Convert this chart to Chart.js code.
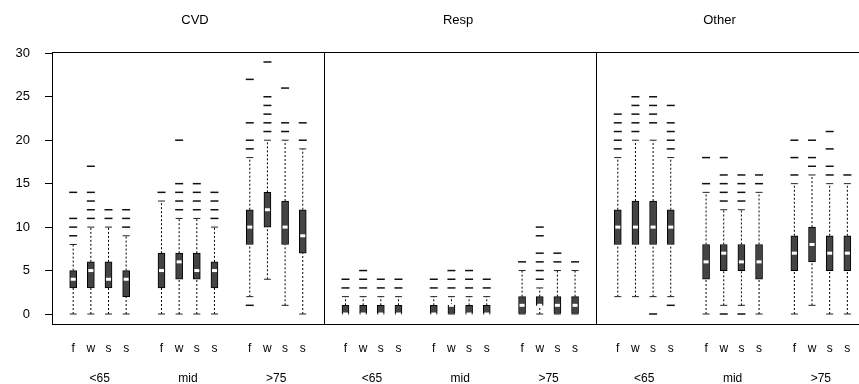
<!DOCTYPE html>
<html>
<head>
<meta charset="utf-8">
<script src="https://cdn.jsdelivr.net/npm/chart.js@4"></script>
<style>
  html, body { margin: 0; padding: 0; background: #fff; }
</style>
</head>
<body>
<canvas id="chart" width="859" height="384"></canvas>
<script>
const panels = ['CVD', 'Resp', 'Other'];
const ageGroups = ['<65', 'mid', '>75'];
const seasons = ['f', 'w', 's', 's'];
const yTicks = [0, 5, 10, 15, 20, 25, 30];

// 36 boxes: CVD, Resp, Other; each <65 / mid / >75 with f w s s
const whiskerLow = [
  0, 0, 0, 0,   0, 0, 0, 0,   2, 4, 1, 0,
  0, 0, 0, 0,   0, 0, 0, 0,   0, 0, 0, 0,
  2, 2, 2, 2,   0, 1, 1, 0,   0, 1, 0, 0
];
const q1 = [
  3, 3, 3, 2,   3, 4, 4, 3,   8, 10, 8, 7,
  0, 0, 0, 0,   0, 0, 0, 0,   0, 1, 0, 0,
  8, 8, 8, 8,   4, 5, 5, 4,   5, 6, 5, 5
];
const median = [
  4, 5, 4, 4,   5, 6, 5, 5,   10, 12, 10, 9,
  0, 0, 0, 0,   0, 1, 0, 0,   1, 1, 1, 1,
  10, 10, 10, 10,   6, 7, 6, 6,   7, 8, 7, 7
];
const q3 = [
  5, 6, 6, 5,   7, 7, 7, 6,   12, 14, 13, 12,
  1, 1, 1, 1,   1, 1, 1, 1,   2, 2, 2, 2,
  12, 13, 13, 12,   8, 8, 8, 8,   9, 10, 9, 9
];
const whiskerHigh = [
  8, 10, 10, 9,   13, 11, 11, 10,   18, 20, 20, 19,
  2, 2, 2, 2,   2, 2, 2, 2,   5, 3, 5, 5,
  18, 20, 20, 18,   14, 12, 12, 14,   15, 16, 15, 15
];
const outliers = [
  [9, 10, 11, 14], [11, 12, 13, 14, 17], [11, 12], [10, 11, 12],
  [14], [12, 13, 14, 15, 20], [12, 13, 14, 15], [11, 12, 13, 14],
  [1, 19, 20, 22, 27], [21, 22, 23, 24, 25, 29], [21, 22, 26], [20, 22],
  [3, 4], [3, 4, 5], [3, 4], [3, 4],
  [3, 4], [3, 4, 5], [3, 4, 5], [3, 4],
  [6], [4, 5, 6, 7, 9, 10], [6, 7], [6],
  [19, 20, 21, 22, 23], [21, 22, 23, 24, 25], [0, 22, 23, 24, 25], [1, 19, 20, 21, 22, 24],
  [15, 18], [0, 13, 14, 15, 16, 18], [0, 13, 14, 15, 16], [15, 16],
  [16, 18, 20], [17, 18, 20], [16, 17, 19, 21], [16]
];

// layout on the x axis: slot units, one panel is PANEL_W slots wide
const PANEL_W = 15.42;
const X_MIN = -1.2;
const X_MAX = 44.5;
const TITLE_X = [6.9, 21.8, 36.6];   // where the panel titles sit

function boxX(i) {
  const p = Math.floor(i / 12), g = Math.floor((i % 12) / 4), s = i % 4;
  return p * PANEL_W + g * 5 + s;
}

const xs = median.map((_, i) => boxX(i));
const groupX = [];
panels.forEach((_, p) => ageGroups.forEach((_, g) => groupX.push(p * PANEL_W + g * 5 + 1.5)));
const panelBounds = [1, 2].map(p => p * PANEL_W + X_MIN);

const whiskerPts = [];
const staplePts = [];
xs.forEach((x, i) => {
  whiskerPts.push({x, y: whiskerLow[i]}, {x, y: q1[i]}, {x, y: null});
  whiskerPts.push({x, y: q3[i]}, {x, y: whiskerHigh[i]}, {x, y: null});
  staplePts.push({x, y: whiskerLow[i]}, {x, y: whiskerHigh[i]});
});
const outlierPts = [];
xs.forEach((x, i) => outliers[i].forEach(v => outlierPts.push({x, y: v})));

const font = { family: '"Liberation Sans", Arial, Helvetica, sans-serif', size: 13 };
const narrow = { family: '"Liberation Sans Narrow", "Liberation Sans", Arial, sans-serif', size: 12 };

// keep the plot area where the axis heights/widths put it
const noSidePad = s => { s.paddingLeft = 0; s.paddingRight = 0; };

new Chart(document.getElementById('chart'), {
  type: 'scatter',
  data: {
    datasets: [
      {
        type: 'bar',
        data: xs.map((x, i) => ({x, y: [q1[i], q3[i]]})),
        backgroundColor: '#444',
        borderColor: '#000',
        borderWidth: 1,
        borderSkipped: false,
        barThickness: 7,
        grouped: false,
        order: 2
      },
      {
        data: whiskerPts,
        showLine: true,
        spanGaps: false,
        borderColor: '#000',
        borderWidth: 1,
        borderDash: [2, 2],
        pointRadius: 0,
        order: 3
      },
      {
        data: staplePts,
        pointStyle: 'line',
        pointRadius: 3.5,
        pointBorderWidth: 1,
        pointBorderColor: '#222',
        order: 1
      },
      {
        data: outlierPts,
        pointStyle: 'line',
        pointRadius: 4,
        pointBorderWidth: 1.5,
        pointBorderColor: '#111',
        order: 1
      },
      {
        data: xs.map((x, i) => ({x, y: median[i]})),
        pointStyle: 'line',
        pointRadius: 2.5,
        pointBorderWidth: 3,
        pointBorderColor: '#fff',
        order: 0
      }
    ]
  },
  options: {
    responsive: false,
    animation: false,
    layout: { padding: 0, autoPadding: false },
    plugins: { legend: { display: false }, tooltip: { enabled: false } },
    scales: {
      x: {
        type: 'linear', position: 'bottom', min: X_MIN, max: X_MAX, offset: false,
        afterBuildTicks: s => { s.ticks = xs.map(v => ({value: v})); },
        afterFit: s => { s.height = 30; noSidePad(s); },
        ticks: { autoSkip: false, maxRotation: 0, padding: 17, font: narrow, color: '#000',
                 callback: (v, i) => seasons[i % 4] },
        grid: { display: false, drawTicks: false, tickLength: 0 },
        border: { display: true, color: '#000', width: 1 }
      },
      xg: {
        type: 'linear', position: 'bottom', min: X_MIN, max: X_MAX, offset: false,
        afterBuildTicks: s => { s.ticks = groupX.map(v => ({value: v})); },
        afterFit: s => { s.height = 30; noSidePad(s); },
        ticks: { autoSkip: false, maxRotation: 0, padding: 17, font: narrow, color: '#000',
                 callback: (v, i) => ageGroups[i % 3] },
        grid: { display: false, drawTicks: false, tickLength: 0 },
        border: { display: false }
      },
      xt: {
        type: 'linear', position: 'top', min: X_MIN, max: X_MAX, offset: false,
        afterBuildTicks: s => {
          s.ticks = TITLE_X.concat(panelBounds).sort((a, b) => a - b).map(v => ({value: v}));
        },
        afterFit: s => { s.height = 52; noSidePad(s); },
        ticks: { autoSkip: false, maxRotation: 0, padding: 24, font, color: '#000',
                 callback: v => {
                   const k = TITLE_X.indexOf(v);
                   return k >= 0 ? panels[k] : '';
                 } },
        grid: {
          display: true, drawOnChartArea: true, drawTicks: false, tickLength: 0, lineWidth: 1,
          color: ctx => (ctx.tick && panelBounds.includes(ctx.tick.value)) ? '#000' : 'rgba(0,0,0,0)'
        },
        border: { display: true, color: '#000', width: 1 }
      },
      y: {
        type: 'linear', position: 'left', min: -1.15, max: 30.15,
        afterBuildTicks: s => { s.ticks = yTicks.map(v => ({value: v})); },
        afterFit: s => { s.width = 52; },
        ticks: { padding: 15, font, color: '#000' },
        grid: { display: true, drawOnChartArea: false, drawTicks: true, tickLength: 7, color: '#000' },
        border: { display: true, color: '#000', width: 1 }
      }
    }
  }
});
</script>
</body>
</html>
